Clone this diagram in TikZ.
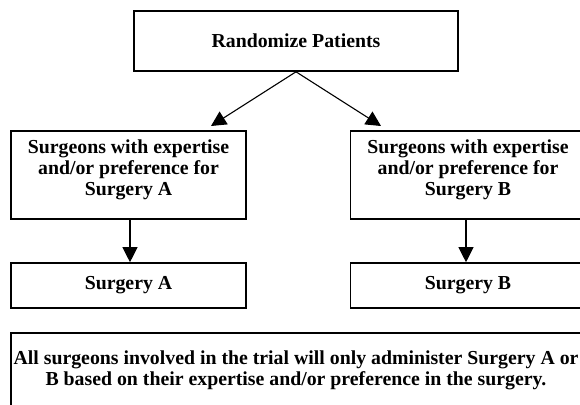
\documentclass[tikz,border=0pt]{standalone}
\usepackage{fontspec}
\setmainfont{Liberation Serif}
\usetikzlibrary{arrows.meta}
\begin{document}
\begin{tikzpicture}[x=1pt,y=-1pt,
  boxstyle/.style={draw=black, line width=1.6pt, rectangle, inner sep=0pt,
    align=center, font=\fontsize{19.8}{21}\selectfont\bfseries},
  conn/.style={draw=black, line width=1.1pt, -{Triangle[length=15pt,width=15pt]}}]
\useasboundingbox (0,0) rectangle (580,404);
\clip (0,0) rectangle (580,404);
\fill[white] (0,0) rectangle (580,404);
\node[boxstyle, minimum width=324pt, minimum height=60pt] (top) at (296,41) {Randomize Patients};
\node[boxstyle, minimum width=235pt, minimum height=88pt, text depth=15pt] (lmid) at (128.5,175) {Surgeons with expertise\\and/or preference for\\Surgery A};
\node[boxstyle, minimum width=235pt, minimum height=88pt, text depth=15pt] (rmid) at (468,175) {Surgeons with expertise\\and/or preference for\\Surgery B};
\node[boxstyle, minimum width=235pt, minimum height=45pt] (sa) at (128.5,285.5) {Surgery A};
\node[boxstyle, minimum width=235pt, minimum height=45pt] (sb) at (468,285.5) {Surgery B};
\node[boxstyle, minimum width=570pt, minimum height=74pt] (note) at (296,370) {All surgeons involved in the trial will only administer Surgery A or\\B based on their expertise and/or preference in the surgery.};
\coordinate (la) at (211,126);
\coordinate (ra) at (381,126);
\draw[conn] (top.south) -- (la);
\draw[conn] (top.south) -- (ra);
\draw[conn] (lmid.south -| 130,0) -- (sa.north -| 130,0);
\draw[conn] (rmid.south -| 466,0) -- (sb.north -| 466,0);
\end{tikzpicture}
\end{document}
